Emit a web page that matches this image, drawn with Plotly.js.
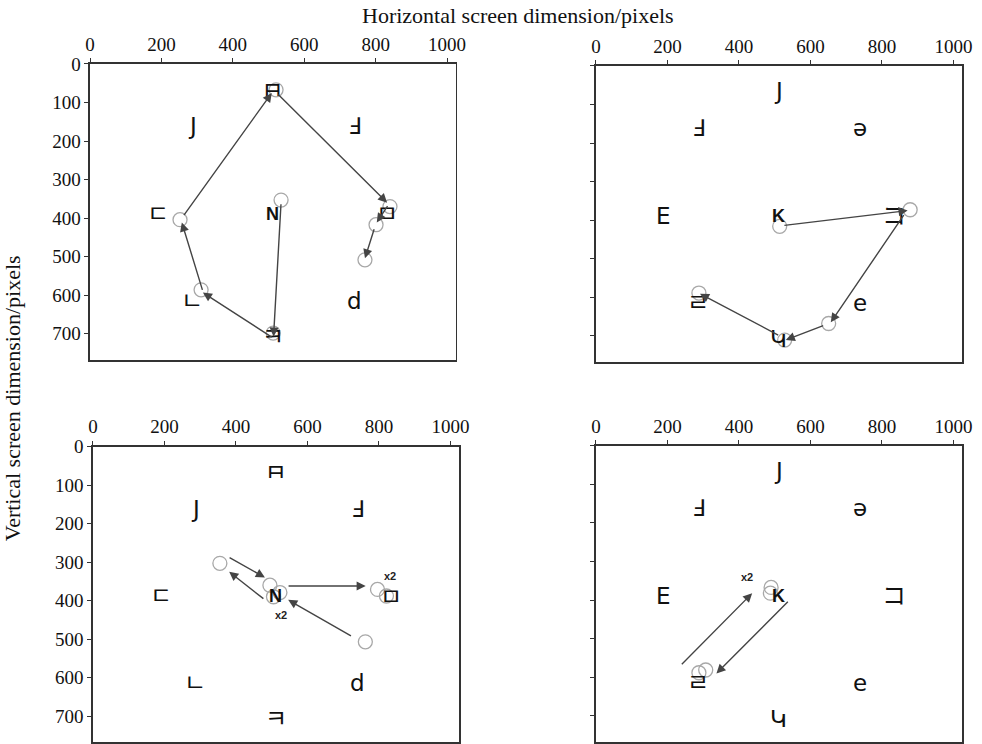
<!DOCTYPE html>
<html>
<head>
<meta charset="utf-8">
<script src="https://cdn.plot.ly/plotly-3.0.1.min.js"></script>
<style>html,body{margin:0;padding:0;background:#fff;}#chart{width:982px;height:744px;}</style>
</head>
<body>
<div id="chart"></div>
<script>
// ---------- data ----------
const xTicks = [0, 200, 400, 600, 800, 1000];
const yTicks = [0, 100, 200, 300, 400, 500, 600, 700];

// stimulus positions (same layout in every panel)
const glyphX = [512, 287, 740, 190, 833, 285, 740, 512];
const glyphY = [65, 162, 162, 388, 390, 614, 614, 707];
const glyphsN = ["ㅂ", "J", "Ⅎ", "ㄷ", "ㅁ", "ㄴ", "d", "ㅋ"];
const glyphsK = ["J", "Ⅎ", "ə", "E", "コ", "ㄹ", "e", "Կ"];
const centreX = 512, centreY = 388;
const centreLetters = ["N", "K", "N", "K"];

// fixations
const fix1X = [535, 252, 311, 513, 521, 840, 801, 770];
const fix1Y = [353, 404, 586, 698, 67, 370, 417, 508];
const fix2X = [514, 879, 651, 528, 288];
const fix2Y = [416, 373, 668, 711, 589];
const fix3X = [355, 495, 523, 505, 796, 821, 762];
const fix3Y = [303, 360, 379, 390, 371, 388, 507];
const fix4X = [490, 488, 288, 307];
const fix4Y = [367, 382, 588, 581];

// saccade arrows (tail -> tip)
const sac1TailX = [535, 513, 316, 260, 523, 836, 797];
const sac1TailY = [360, 711, 590, 396, 75, 365, 425];
const sac1TipX = [514, 316, 257, 509, 832, 803, 770];
const sac1TipY = [707, 593, 411, 75, 360, 411, 504];
const sac2TailX = [523, 864, 640, 514];
const sac2TailY = [414, 383, 672, 700];
const sac2TipX = [872, 657, 531, 291];
const sac2TipY = [375, 665, 711, 591];
const sac3TailX = [378, 481, 543, 726];
const sac3TailY = [286, 398, 362, 494];
const sac3TipX = [481, 381, 763, 546];
const sac3TipY = [340, 325, 362, 398];
const sac4TailX = [236, 541];
const sac4TailY = [570, 400];
const sac4TipX = [437, 337];
const sac4TipY = [382, 590];

// repeat labels
const repLabels = ["x2", "x2", "x2"];
const repPanel = [3, 3, 4];
const repX = [830, 526, 422];
const repY = [337, 437, 341];

// ---------- build ----------
const fixX = [fix1X, fix2X, fix3X, fix4X];
const fixY = [fix1Y, fix2Y, fix3Y, fix4Y];
const sacs = [
  [sac1TailX, sac1TailY, sac1TipX, sac1TipY],
  [sac2TailX, sac2TailY, sac2TipX, sac2TipY],
  [sac3TailX, sac3TailY, sac3TipX, sac3TipY],
  [sac4TailX, sac4TailY, sac4TipX, sac4TipY]
];
const glyphSets = [glyphsN, glyphsK, glyphsN, glyphsK];
const glyphAngle = {"ㅂ": 180};
const cjk = /[\u3130-\u318F\u30A0-\u30FF]/;

const axSuffix = ["", "2", "3", "4"];
const traces = [];
const annotations = [];

for (let p = 0; p < 4; p++) {
  const xr = "x" + axSuffix[p], yr = "y" + axSuffix[p];
  traces.push({
    type: "scatter", mode: "markers", x: fixX[p], y: fixY[p],
    xaxis: xr, yaxis: yr, hoverinfo: "skip", showlegend: false,
    marker: {symbol: "circle-open", size: 14, color: "#a8a8a8", line: {width: 1.3, color: "#a8a8a8"}}
  });
  glyphSets[p].forEach((g, i) => {
    annotations.push({
      xref: xr, yref: yr, x: glyphX[i], y: glyphY[i], text: g, showarrow: false,
      textangle: glyphAngle[g] || 0,
      font: {family: "DejaVu Sans, Noto Sans CJK KR, Noto Sans CJK JP", size: cjk.test(g) ? 24 : 23, color: "#111"}
    });
  });
  annotations.push({
    xref: xr, yref: yr, x: centreX, y: centreY, text: "<b>" + centreLetters[p] + "</b>", showarrow: false,
    font: {family: "Liberation Sans, Arial", size: 18, color: "#111"}
  });
  const s = sacs[p];
  for (let i = 0; i < s[0].length; i++) {
    annotations.push({
      xref: xr, yref: yr, axref: xr, ayref: yr,
      x: s[2][i], y: s[3][i], ax: s[0][i], ay: s[1][i],
      text: "", showarrow: true, arrowhead: 2, arrowsize: 1.3, arrowwidth: 1.4,
      arrowcolor: "#444", standoff: 0, startstandoff: 0
    });
  }
}
repLabels.forEach((t, i) => {
  const sfx = axSuffix[repPanel[i] - 1];
  annotations.push({
    xref: "x" + sfx, yref: "y" + sfx, x: repX[i], y: repY[i], text: "<b>" + t + "</b>",
    showarrow: false, font: {family: "Liberation Sans, Arial", size: 11, color: "#222"}
  });
});

annotations.push({
  xref: "paper", yref: "paper", x: 0.5275, y: 0.979, xanchor: "center", yanchor: "middle",
  text: "Horizontal screen dimension/pixels",
  showarrow: false, font: {family: "Liberation Serif, Times New Roman", size: 22, color: "#111"}
});
annotations.push({
  xref: "paper", yref: "paper", x: 0.0125, y: 0.465, xanchor: "center", yanchor: "middle", textangle: -90,
  text: "Vertical screen dimension/pixels",
  showarrow: false, font: {family: "Liberation Serif, Times New Roman", size: 22, color: "#111"}
});

const tickFont = {family: "Liberation Serif, Times New Roman", size: 19, color: "#111"};
function xa(domain, anchor) {
  return {domain: domain, anchor: anchor, side: "top", range: [0, 1024], tickvals: xTicks,
    ticks: "outside", ticklen: 4, tickcolor: "#333", showgrid: false, zeroline: false,
    showline: true, mirror: true, linecolor: "#333", linewidth: 1.6, tickfont: tickFont, fixedrange: true};
}
function ya(domain, anchor, labels) {
  return {domain: domain, anchor: anchor, range: [768, 0], tickvals: yTicks,
    ticks: "outside", ticklen: 4, tickcolor: "#333", showgrid: false, zeroline: false,
    showline: true, mirror: true, linecolor: "#333", linewidth: 1.6, tickfont: tickFont,
    showticklabels: labels, fixedrange: true};
}

const layout = {
  width: 982, height: 744, margin: {l: 0, r: 0, t: 0, b: 0},
  paper_bgcolor: "#fff", plot_bgcolor: "#fff", showlegend: false,
  xaxis: xa([0.0917, 0.4640], "y"),
  yaxis: ya([0.5161, 0.9140], "x", true),
  xaxis2: xa([0.6069, 0.9796], "y2"),
  yaxis2: ya([0.5134, 0.9113], "x2", false),
  xaxis3: xa([0.0947, 0.4674], "y3"),
  yaxis3: ya([0.0024, 0.3996], "x3", true),
  xaxis4: xa([0.6069, 0.9796], "y4"),
  yaxis4: ya([0.0024, 0.4009], "x4", false),
  annotations: annotations
};

Plotly.newPlot("chart", traces, layout, {displayModeBar: false, staticPlot: true});
</script>
</body>
</html>
